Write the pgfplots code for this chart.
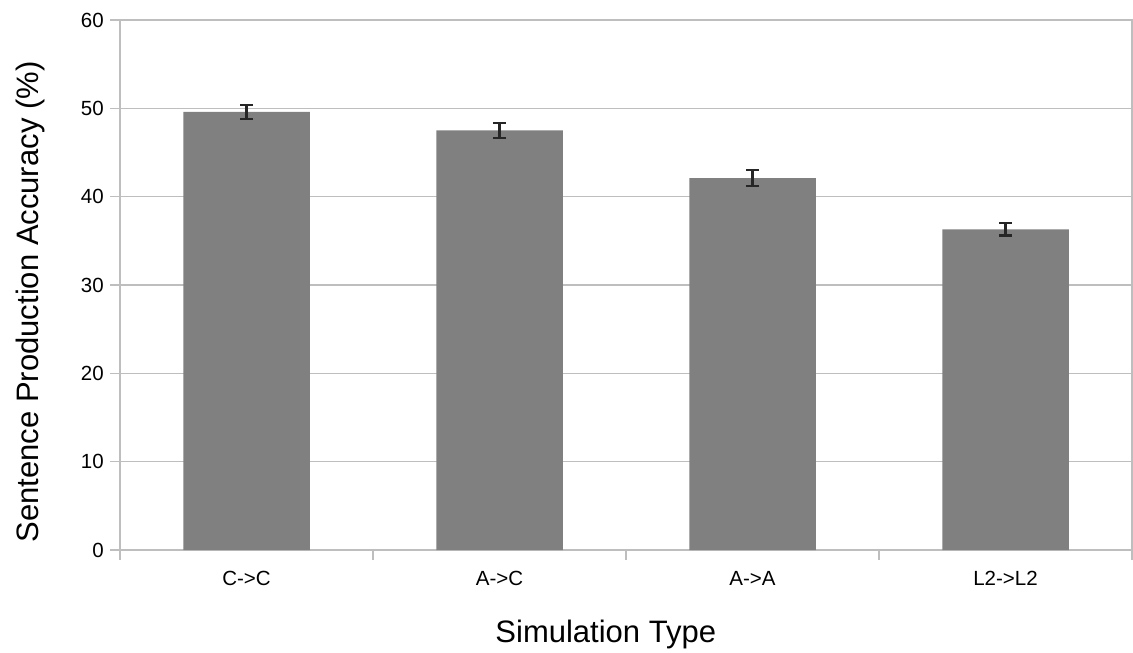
\documentclass[border=0pt]{standalone}
\usepackage{pgfplots}
\pgfplotsset{compat=1.18}
\usepackage{fontspec}
\setmainfont{Liberation Sans}
\definecolor{gridgray}{RGB}{190,190,190}
\definecolor{barfill}{RGB}{128,128,128}
\begin{document}
\begin{tikzpicture}
\begin{axis}[
  name=ax,
  scale only axis,
  width=1012pt, height=530pt,
  xmin=-0.5, xmax=3.5,
  ymin=0, ymax=60,
  enlargelimits=false,
  ytick={0,10,...,60},
  xtick={0,1,2,3},
  xticklabels={C->C, A->C, A->A, L2->L2},
  minor xtick={-0.5,0.5,1.5,2.5,3.5},
  tick align=outside,
  xtick pos=bottom, ytick pos=left,
  major tick length=10pt,
  minor tick length=10pt,
  major x tick style={draw=none},
  minor x tick style={draw=gridgray, line width=1.3pt},
  major y tick style={draw=gridgray, line width=1.3pt},
  ymajorgrids,
  grid style={draw=gridgray, line width=1.3pt},
  axis line style={draw=gridgray, line width=1.3pt},
  /pgf/number format/assume math mode=true,
  ticklabel style={font=\fontsize{20.5}{24}\selectfont, text=black},
  yticklabel style={anchor=east, xshift=-6pt, inner sep=0pt},
  xticklabel style={anchor=base, yshift=-25pt, inner sep=0pt},
  xlabel={Simulation Type},
  ylabel={Sentence Production Accuracy (\%)},
  label style={font=\fontsize{31}{36}\selectfont, text=black},
  xlabel style={at={(axis description cs:0.48,0)}, anchor=base, yshift=-92pt, inner sep=0pt},
  ylabel style={at={(axis description cs:-0.0889,0.468)}, anchor=center, inner sep=0pt},
]
\addplot[ybar, bar width=0.5, fill=barfill, draw=none,
  error bars/.cd, y dir=both, y explicit,
  error bar style={line width=2.4pt, color=black!85},
  error mark options={rotate=90, mark size=6.5pt, line width=2.4pt, color=black!85}]
  coordinates {
    (0,49.6) +- (0,0.8)
    (1,47.5) +- (0,0.85)
    (2,42.1) +- (0,0.9)
    (3,36.3) +- (0,0.7)
  };
\end{axis}
\pgfresetboundingbox
\path[use as bounding box] ([shift={(-120pt,-102pt)}]ax.south west) rectangle ([shift={(1pt,20pt)}]ax.north east);
\end{tikzpicture}
\end{document}
